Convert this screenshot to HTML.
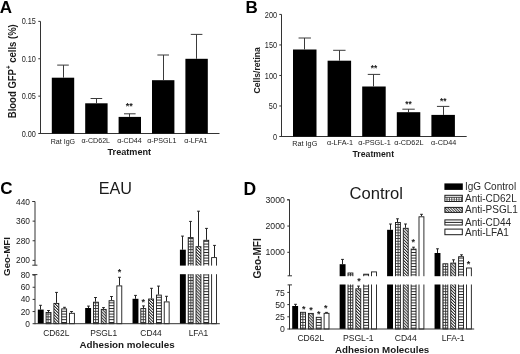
<!DOCTYPE html>
<html><head><meta charset="utf-8"><style>
html,body{margin:0;padding:0;background:#fff;}
body{width:520px;height:354px;overflow:hidden;}
svg{display:block;font-family:'Liberation Sans', Arial, sans-serif;}
</style></head><body>
<svg width="520" height="354" viewBox="0 0 520 354">
<rect width="520" height="354" fill="#fff"/>

<defs>
<pattern id="pg" patternUnits="userSpaceOnUse" x="0" y="0" width="2.8" height="2.8">
  <rect width="2.8" height="2.8" fill="#fff"/>
  <rect x="0" y="0" width="2.8" height="0.9" fill="#333"/>
  <rect x="0" y="0" width="0.9" height="2.8" fill="#333"/>
</pattern>
<pattern id="pd" patternUnits="userSpaceOnUse" width="2.1" height="2.1" patternTransform="rotate(-45)">
  <rect width="2.1" height="2.1" fill="#fff"/>
  <rect x="0" y="0" width="0.95" height="2.1" fill="#222"/>
</pattern>
<pattern id="pdl" patternUnits="userSpaceOnUse" width="1.9" height="1.9" patternTransform="rotate(-45)">
  <rect width="1.9" height="1.9" fill="#fff"/>
  <rect x="0" y="0" width="0.85" height="1.9" fill="#222"/>
</pattern>
<pattern id="ph" patternUnits="userSpaceOnUse" width="4" height="2.8">
  <rect width="4" height="2.8" fill="#fff"/>
  <rect x="0" y="0" width="4" height="0.95" fill="#222"/>
</pattern>
</defs>
<text x="-0.2" y="12.6" font-size="17" text-anchor="start" font-weight="bold" fill="#000" >A</text>
<line x1="40.5" y1="21.4" x2="40.5" y2="134.0" stroke="#333" stroke-width="1"/>
<line x1="40.5" y1="133.5" x2="219.5" y2="133.5" stroke="#333" stroke-width="1"/>
<line x1="38.3" y1="133.5" x2="40.5" y2="133.5" stroke="#333" stroke-width="1"/>
<text transform="translate(35.9,136.6) scale(0.85,1)" font-size="8.6" text-anchor="end" fill="#1a1a1a">0.00</text>
<line x1="38.3" y1="96.13" x2="40.5" y2="96.13" stroke="#333" stroke-width="1"/>
<text transform="translate(35.9,99.22999999999999) scale(0.85,1)" font-size="8.6" text-anchor="end" fill="#1a1a1a">0.05</text>
<line x1="38.3" y1="58.760000000000005" x2="40.5" y2="58.760000000000005" stroke="#333" stroke-width="1"/>
<text transform="translate(35.9,61.86000000000001) scale(0.85,1)" font-size="8.6" text-anchor="end" fill="#1a1a1a">0.10</text>
<line x1="38.3" y1="21.390000000000015" x2="40.5" y2="21.390000000000015" stroke="#333" stroke-width="1"/>
<text transform="translate(35.9,24.490000000000016) scale(0.85,1)" font-size="8.6" text-anchor="end" fill="#1a1a1a">0.15</text>
<rect x="51.80" y="77.70" width="22.40" height="55.80" fill="#000"/>
<line x1="63.5" y1="65.1" x2="63.5" y2="77.7" stroke="#3a3a3a" stroke-width="1"/>
<line x1="57.2" y1="65.1" x2="68.8" y2="65.1" stroke="#3a3a3a" stroke-width="1"/>
<text transform="translate(62.9,143.9) scale(0.9,1)" font-size="7.9" text-anchor="middle" fill="#1a1a1a">Rat IgG</text>
<rect x="85.20" y="103.30" width="22.40" height="30.20" fill="#000"/>
<line x1="96.5" y1="98.5" x2="96.5" y2="103.3" stroke="#3a3a3a" stroke-width="1"/>
<line x1="90.6" y1="98.5" x2="102.19999999999999" y2="98.5" stroke="#3a3a3a" stroke-width="1"/>
<text transform="translate(95.75,142.7) scale(0.9,1)" font-size="7.9" text-anchor="middle" fill="#1a1a1a">&#945;-CD62L</text>
<rect x="118.60" y="116.90" width="22.40" height="16.60" fill="#000"/>
<line x1="129.5" y1="113.8" x2="129.5" y2="116.9" stroke="#3a3a3a" stroke-width="1"/>
<line x1="123.99999999999999" y1="113.8" x2="135.6" y2="113.8" stroke="#3a3a3a" stroke-width="1"/>
<text transform="translate(129.45,142.7) scale(0.9,1)" font-size="7.9" text-anchor="middle" fill="#1a1a1a">&#945;-CD44</text>
<rect x="152.00" y="80.20" width="22.40" height="53.30" fill="#000"/>
<line x1="163.5" y1="55.0" x2="163.5" y2="80.2" stroke="#3a3a3a" stroke-width="1"/>
<line x1="157.39999999999998" y1="55.0" x2="169.0" y2="55.0" stroke="#3a3a3a" stroke-width="1"/>
<text transform="translate(161.8,142.7) scale(0.9,1)" font-size="7.9" text-anchor="middle" fill="#1a1a1a">&#945;-PSGL1</text>
<rect x="185.40" y="58.80" width="22.40" height="74.70" fill="#000"/>
<line x1="196.5" y1="34.4" x2="196.5" y2="58.8" stroke="#3a3a3a" stroke-width="1"/>
<line x1="190.79999999999995" y1="34.4" x2="202.39999999999998" y2="34.4" stroke="#3a3a3a" stroke-width="1"/>
<text transform="translate(195.85,142.7) scale(0.9,1)" font-size="7.9" text-anchor="middle" fill="#1a1a1a">&#945;-LFA1</text>
<text x="129.3" y="109.4" font-size="9" text-anchor="middle" font-weight="bold" fill="#1a1a1a" >**</text>
<text transform="translate(129.3,155.3) scale(0.97,1)" font-size="9.4" text-anchor="middle" font-weight="bold" fill="#1a1a1a">Treatment</text>
<text x="0" y="0" font-size="10" text-anchor="middle" font-weight="bold" fill="#1a1a1a" transform="translate(15.6,71.2) rotate(-90)" textLength="94" lengthAdjust="spacingAndGlyphs">Blood GFP<tspan dy="-4.2" font-size="6.5">+</tspan><tspan dy="4.2"> cells (%)</tspan></text>
<text x="245.5" y="12.8" font-size="17" text-anchor="start" font-weight="bold" fill="#000" >B</text>
<line x1="281.5" y1="14.4" x2="281.5" y2="137.0" stroke="#333" stroke-width="1"/>
<line x1="281.5" y1="136.5" x2="466.7" y2="136.5" stroke="#333" stroke-width="1"/>
<line x1="279.3" y1="136.5" x2="281.5" y2="136.5" stroke="#333" stroke-width="1"/>
<text transform="translate(277.0,139.6) scale(0.85,1)" font-size="8.6" text-anchor="end" fill="#1a1a1a">0</text>
<line x1="279.3" y1="105.98" x2="281.5" y2="105.98" stroke="#333" stroke-width="1"/>
<text transform="translate(277.0,109.08) scale(0.85,1)" font-size="8.6" text-anchor="end" fill="#1a1a1a">50</text>
<line x1="279.3" y1="75.46000000000001" x2="281.5" y2="75.46000000000001" stroke="#333" stroke-width="1"/>
<text transform="translate(277.0,78.56) scale(0.85,1)" font-size="8.6" text-anchor="end" fill="#1a1a1a">100</text>
<line x1="279.3" y1="44.94" x2="281.5" y2="44.94" stroke="#333" stroke-width="1"/>
<text transform="translate(277.0,48.04) scale(0.85,1)" font-size="8.6" text-anchor="end" fill="#1a1a1a">150</text>
<line x1="279.3" y1="14.420000000000002" x2="281.5" y2="14.420000000000002" stroke="#333" stroke-width="1"/>
<text transform="translate(277.0,17.520000000000003) scale(0.85,1)" font-size="8.6" text-anchor="end" fill="#1a1a1a">200</text>
<rect x="293.00" y="49.50" width="23.50" height="87.00" fill="#000"/>
<line x1="304.5" y1="38.0" x2="304.5" y2="49.5" stroke="#3a3a3a" stroke-width="1"/>
<line x1="298.55" y1="38.0" x2="310.95" y2="38.0" stroke="#3a3a3a" stroke-width="1"/>
<text transform="translate(304.8,146.2) scale(0.92,1)" font-size="7.9" text-anchor="middle" fill="#1a1a1a">Rat IgG</text>
<rect x="327.60" y="60.70" width="23.50" height="75.80" fill="#000"/>
<line x1="339.5" y1="50.3" x2="339.5" y2="60.7" stroke="#3a3a3a" stroke-width="1"/>
<line x1="333.15000000000003" y1="50.3" x2="345.55" y2="50.3" stroke="#3a3a3a" stroke-width="1"/>
<text transform="translate(339.95,145.0) scale(0.92,1)" font-size="7.9" text-anchor="middle" fill="#1a1a1a">&#945;-LFA-1</text>
<rect x="362.20" y="86.50" width="23.50" height="50.00" fill="#000"/>
<line x1="373.5" y1="74.4" x2="373.5" y2="86.5" stroke="#3a3a3a" stroke-width="1"/>
<line x1="367.75" y1="74.4" x2="380.15" y2="74.4" stroke="#3a3a3a" stroke-width="1"/>
<text transform="translate(374.55,145.0) scale(0.92,1)" font-size="7.9" text-anchor="middle" fill="#1a1a1a">&#945;-PSGL-1</text>
<rect x="396.80" y="112.20" width="23.50" height="24.30" fill="#000"/>
<line x1="408.5" y1="109.2" x2="408.5" y2="112.2" stroke="#3a3a3a" stroke-width="1"/>
<line x1="402.35" y1="109.2" x2="414.75" y2="109.2" stroke="#3a3a3a" stroke-width="1"/>
<text transform="translate(408.85,145.0) scale(0.92,1)" font-size="7.9" text-anchor="middle" fill="#1a1a1a">&#945;-CD62L</text>
<rect x="431.40" y="114.90" width="23.50" height="21.60" fill="#000"/>
<line x1="443.5" y1="106.4" x2="443.5" y2="114.9" stroke="#3a3a3a" stroke-width="1"/>
<line x1="436.95" y1="106.4" x2="449.34999999999997" y2="106.4" stroke="#3a3a3a" stroke-width="1"/>
<text transform="translate(443.7,145.0) scale(0.92,1)" font-size="7.9" text-anchor="middle" fill="#1a1a1a">&#945;-CD44</text>
<text x="373.95" y="70.6" font-size="8.3" text-anchor="middle" font-weight="bold" fill="#1a1a1a" >**</text>
<text x="408.55" y="107.2" font-size="8.3" text-anchor="middle" font-weight="bold" fill="#1a1a1a" >**</text>
<text x="443.15" y="103.6" font-size="8.3" text-anchor="middle" font-weight="bold" fill="#1a1a1a" >**</text>
<text x="373.3" y="157.3" font-size="8.7" text-anchor="middle" font-weight="bold" fill="#1a1a1a" >Treatment</text>
<text x="0" y="0" font-size="8.6" text-anchor="middle" font-weight="bold" fill="#1a1a1a" transform="translate(260.3,70.3) rotate(-90)">Cells/retina</text>
<text x="0.3" y="194.4" font-size="17" text-anchor="start" font-weight="bold" fill="#000" >C</text>
<text x="115.4" y="193.8" font-size="16.2" text-anchor="middle" fill="#1a1a1a" >EAU</text>
<line x1="40.5" y1="305.3" x2="40.5" y2="309.6" stroke="#222" stroke-width="1"/>
<line x1="39.1" y1="305.3" x2="41.9" y2="305.3" stroke="#222" stroke-width="1"/>
<rect x="37.80" y="309.60" width="5.90" height="14.10" fill="#000"/>
<line x1="48.5" y1="310.5" x2="48.5" y2="312.0" stroke="#222" stroke-width="1"/>
<line x1="47.1" y1="310.5" x2="49.9" y2="310.5" stroke="#222" stroke-width="1"/>
<rect x="46.10" y="312.50" width="4.90" height="11.20" fill="url(#pg)" stroke="#1a1a1a" stroke-width="0.9"/>
<line x1="56.5" y1="292.4" x2="56.5" y2="302.9" stroke="#222" stroke-width="1"/>
<line x1="55.1" y1="292.4" x2="57.9" y2="292.4" stroke="#222" stroke-width="1"/>
<rect x="53.90" y="303.40" width="4.90" height="20.30" fill="url(#pd)" stroke="#1a1a1a" stroke-width="0.9"/>
<line x1="64.5" y1="307.3" x2="64.5" y2="308.4" stroke="#222" stroke-width="1"/>
<line x1="63.1" y1="307.3" x2="65.9" y2="307.3" stroke="#222" stroke-width="1"/>
<rect x="61.70" y="308.90" width="4.90" height="14.80" fill="url(#ph)" stroke="#1a1a1a" stroke-width="0.9"/>
<line x1="71.5" y1="311.5" x2="71.5" y2="312.8" stroke="#222" stroke-width="1"/>
<line x1="70.1" y1="311.5" x2="72.9" y2="311.5" stroke="#222" stroke-width="1"/>
<rect x="69.50" y="313.30" width="4.90" height="10.40" fill="#fff" stroke="#1a1a1a" stroke-width="0.9"/>
<text x="56.3" y="336.0" font-size="8.4" text-anchor="middle" fill="#1a1a1a" >CD62L</text>
<line x1="88.5" y1="306.1" x2="88.5" y2="308.0" stroke="#222" stroke-width="1"/>
<line x1="87.1" y1="306.1" x2="89.9" y2="306.1" stroke="#222" stroke-width="1"/>
<rect x="85.17" y="308.00" width="5.90" height="15.70" fill="#000"/>
<line x1="95.5" y1="297.5" x2="95.5" y2="301.7" stroke="#222" stroke-width="1"/>
<line x1="94.1" y1="297.5" x2="96.9" y2="297.5" stroke="#222" stroke-width="1"/>
<rect x="93.47" y="302.20" width="4.90" height="21.50" fill="url(#pg)" stroke="#1a1a1a" stroke-width="0.9"/>
<line x1="103.5" y1="307.6" x2="103.5" y2="308.9" stroke="#222" stroke-width="1"/>
<line x1="102.1" y1="307.6" x2="104.9" y2="307.6" stroke="#222" stroke-width="1"/>
<rect x="101.27" y="309.40" width="4.90" height="14.30" fill="url(#pd)" stroke="#1a1a1a" stroke-width="0.9"/>
<line x1="111.5" y1="296.5" x2="111.5" y2="300.2" stroke="#222" stroke-width="1"/>
<line x1="110.1" y1="296.5" x2="112.9" y2="296.5" stroke="#222" stroke-width="1"/>
<rect x="109.07" y="300.70" width="4.90" height="23.00" fill="url(#ph)" stroke="#1a1a1a" stroke-width="0.9"/>
<line x1="119.5" y1="277.3" x2="119.5" y2="285.4" stroke="#222" stroke-width="1"/>
<line x1="118.1" y1="277.3" x2="120.9" y2="277.3" stroke="#222" stroke-width="1"/>
<rect x="116.87" y="285.90" width="4.90" height="37.80" fill="#fff" stroke="#1a1a1a" stroke-width="0.9"/>
<text x="103.66999999999999" y="336.0" font-size="8.4" text-anchor="middle" fill="#1a1a1a" >PSGL1</text>
<line x1="135.5" y1="295.4" x2="135.5" y2="298.8" stroke="#222" stroke-width="1"/>
<line x1="134.1" y1="295.4" x2="136.9" y2="295.4" stroke="#222" stroke-width="1"/>
<rect x="132.54" y="298.80" width="5.90" height="24.90" fill="#000"/>
<line x1="143.5" y1="305.9" x2="143.5" y2="308.1" stroke="#222" stroke-width="1"/>
<line x1="142.1" y1="305.9" x2="144.9" y2="305.9" stroke="#222" stroke-width="1"/>
<rect x="140.84" y="308.60" width="4.90" height="15.10" fill="url(#pg)" stroke="#1a1a1a" stroke-width="0.9"/>
<line x1="151.5" y1="288.3" x2="151.5" y2="298.5" stroke="#222" stroke-width="1"/>
<line x1="150.1" y1="288.3" x2="152.9" y2="288.3" stroke="#222" stroke-width="1"/>
<rect x="148.64" y="299.00" width="4.90" height="24.70" fill="url(#pd)" stroke="#1a1a1a" stroke-width="0.9"/>
<line x1="158.5" y1="286.1" x2="158.5" y2="294.6" stroke="#222" stroke-width="1"/>
<line x1="157.1" y1="286.1" x2="159.9" y2="286.1" stroke="#222" stroke-width="1"/>
<rect x="156.44" y="295.10" width="4.90" height="28.60" fill="url(#ph)" stroke="#1a1a1a" stroke-width="0.9"/>
<line x1="166.5" y1="296.3" x2="166.5" y2="301.4" stroke="#222" stroke-width="1"/>
<line x1="165.1" y1="296.3" x2="167.9" y2="296.3" stroke="#222" stroke-width="1"/>
<rect x="164.24" y="301.90" width="4.90" height="21.80" fill="#fff" stroke="#1a1a1a" stroke-width="0.9"/>
<text x="151.04" y="336.0" font-size="8.4" text-anchor="middle" fill="#1a1a1a" >CD44</text>
<line x1="182.5" y1="236.1" x2="182.5" y2="249.7" stroke="#222" stroke-width="1"/>
<line x1="181.1" y1="236.1" x2="183.9" y2="236.1" stroke="#222" stroke-width="1"/>
<rect x="179.91" y="249.70" width="5.90" height="74.00" fill="#000"/>
<line x1="190.5" y1="221.4" x2="190.5" y2="237.1" stroke="#222" stroke-width="1"/>
<line x1="189.1" y1="221.4" x2="191.9" y2="221.4" stroke="#222" stroke-width="1"/>
<rect x="188.21" y="237.60" width="4.90" height="86.10" fill="url(#pg)" stroke="#1a1a1a" stroke-width="0.9"/>
<line x1="198.5" y1="211.2" x2="198.5" y2="246.2" stroke="#222" stroke-width="1"/>
<line x1="197.1" y1="211.2" x2="199.9" y2="211.2" stroke="#222" stroke-width="1"/>
<rect x="196.01" y="246.70" width="4.90" height="77.00" fill="url(#pd)" stroke="#1a1a1a" stroke-width="0.9"/>
<line x1="206.5" y1="228.4" x2="206.5" y2="239.8" stroke="#222" stroke-width="1"/>
<line x1="205.1" y1="228.4" x2="207.9" y2="228.4" stroke="#222" stroke-width="1"/>
<rect x="203.81" y="240.30" width="4.90" height="83.40" fill="url(#ph)" stroke="#1a1a1a" stroke-width="0.9"/>
<line x1="214.5" y1="245.4" x2="214.5" y2="257.1" stroke="#222" stroke-width="1"/>
<line x1="213.1" y1="245.4" x2="215.9" y2="245.4" stroke="#222" stroke-width="1"/>
<rect x="211.61" y="257.60" width="4.90" height="66.10" fill="#fff" stroke="#1a1a1a" stroke-width="0.9"/>
<text x="198.40999999999997" y="336.0" font-size="8.4" text-anchor="middle" fill="#1a1a1a" >LFA1</text>
<rect x="36.00" y="265.60" width="184.80" height="8.60" fill="#fff"/>
<line x1="35.0" y1="201.5" x2="35.0" y2="265.2" stroke="#333" stroke-width="1"/>
<line x1="32.3" y1="201.5" x2="35.0" y2="201.5" stroke="#333" stroke-width="1"/>
<line x1="32.3" y1="265.2" x2="37.4" y2="265.2" stroke="#333" stroke-width="1"/>
<line x1="32.6" y1="201.5" x2="35.0" y2="201.5" stroke="#333" stroke-width="1"/>
<text x="30.0" y="204.5" font-size="8.4" text-anchor="end" fill="#1a1a1a" >440</text>
<line x1="32.6" y1="221.13" x2="35.0" y2="221.13" stroke="#333" stroke-width="1"/>
<text x="30.0" y="224.13" font-size="8.4" text-anchor="end" fill="#1a1a1a" >360</text>
<line x1="32.6" y1="240.76" x2="35.0" y2="240.76" stroke="#333" stroke-width="1"/>
<text x="30.0" y="243.76" font-size="8.4" text-anchor="end" fill="#1a1a1a" >280</text>
<line x1="32.6" y1="260.39" x2="35.0" y2="260.39" stroke="#333" stroke-width="1"/>
<text x="30.0" y="263.39" font-size="8.4" text-anchor="end" fill="#1a1a1a" >200</text>
<line x1="35.0" y1="274.6" x2="35.0" y2="324.2" stroke="#333" stroke-width="1"/>
<line x1="32.3" y1="274.6" x2="37.4" y2="274.6" stroke="#333" stroke-width="1"/>
<line x1="32.6" y1="323.7" x2="35.0" y2="323.7" stroke="#333" stroke-width="1"/>
<text x="30.0" y="326.7" font-size="8.4" text-anchor="end" fill="#1a1a1a" >0</text>
<line x1="32.6" y1="311.55" x2="35.0" y2="311.55" stroke="#333" stroke-width="1"/>
<text x="30.0" y="314.55" font-size="8.4" text-anchor="end" fill="#1a1a1a" >20</text>
<line x1="32.6" y1="299.4" x2="35.0" y2="299.4" stroke="#333" stroke-width="1"/>
<text x="30.0" y="302.4" font-size="8.4" text-anchor="end" fill="#1a1a1a" >40</text>
<line x1="32.6" y1="287.25" x2="35.0" y2="287.25" stroke="#333" stroke-width="1"/>
<text x="30.0" y="290.25" font-size="8.4" text-anchor="end" fill="#1a1a1a" >60</text>
<line x1="32.6" y1="275.09999999999997" x2="35.0" y2="275.09999999999997" stroke="#333" stroke-width="1"/>
<text x="30.0" y="278.09999999999997" font-size="8.4" text-anchor="end" fill="#1a1a1a" >80</text>
<line x1="35.0" y1="323.7" x2="219.8" y2="323.7" stroke="#333" stroke-width="1"/>
<text x="119.4" y="274.8" font-size="9" text-anchor="middle" font-weight="bold" fill="#1a1a1a" >*</text>
<text x="143.3" y="304.8" font-size="9" text-anchor="middle" font-weight="bold" fill="#1a1a1a" >*</text>
<text x="127.1" y="347.7" font-size="9.8" text-anchor="middle" font-weight="bold" fill="#1a1a1a" >Adhesion molecules</text>
<text x="0" y="0" font-size="9.7" text-anchor="middle" font-weight="bold" fill="#1a1a1a" transform="translate(10.1,256.5) rotate(-90)">Geo-MFI</text>
<text x="243.6" y="194.7" font-size="17.5" text-anchor="start" font-weight="bold" fill="#000" >D</text>
<text x="376.3" y="199.3" font-size="16.6" text-anchor="middle" fill="#1a1a1a" >Control</text>
<line x1="295.5" y1="304.3" x2="295.5" y2="306.0" stroke="#222" stroke-width="1"/>
<line x1="294.1" y1="304.3" x2="296.9" y2="304.3" stroke="#222" stroke-width="1"/>
<rect x="292.20" y="306.00" width="5.90" height="23.00" fill="#000"/>
<rect x="300.55" y="312.30" width="4.90" height="16.70" fill="url(#pg)" stroke="#1a1a1a" stroke-width="0.9"/>
<rect x="308.40" y="313.40" width="4.90" height="15.60" fill="url(#pd)" stroke="#1a1a1a" stroke-width="0.9"/>
<rect x="316.25" y="317.30" width="4.90" height="11.70" fill="url(#ph)" stroke="#1a1a1a" stroke-width="0.9"/>
<line x1="326.5" y1="312.4" x2="326.5" y2="312.8" stroke="#222" stroke-width="1"/>
<line x1="325.1" y1="312.4" x2="327.9" y2="312.4" stroke="#222" stroke-width="1"/>
<rect x="324.10" y="313.30" width="4.90" height="15.70" fill="#fff" stroke="#1a1a1a" stroke-width="0.9"/>
<text x="310.8" y="341.3" font-size="8.6" text-anchor="middle" fill="#1a1a1a" >CD62L</text>
<line x1="342.5" y1="259.4" x2="342.5" y2="264.2" stroke="#222" stroke-width="1"/>
<line x1="341.1" y1="259.4" x2="343.9" y2="259.4" stroke="#222" stroke-width="1"/>
<rect x="339.65" y="264.20" width="5.90" height="64.80" fill="#000"/>
<rect x="348.00" y="273.00" width="4.90" height="56.00" fill="url(#pg)" stroke="#1a1a1a" stroke-width="0.9"/>
<line x1="358.5" y1="286.1" x2="358.5" y2="288.3" stroke="#222" stroke-width="1"/>
<line x1="357.1" y1="286.1" x2="359.9" y2="286.1" stroke="#222" stroke-width="1"/>
<rect x="355.85" y="288.80" width="4.90" height="40.20" fill="url(#pd)" stroke="#1a1a1a" stroke-width="0.9"/>
<rect x="363.70" y="274.20" width="4.90" height="54.80" fill="url(#ph)" stroke="#1a1a1a" stroke-width="0.9"/>
<rect x="371.55" y="271.90" width="4.90" height="57.10" fill="#fff" stroke="#1a1a1a" stroke-width="0.9"/>
<text x="358.25" y="341.3" font-size="8.6" text-anchor="middle" fill="#1a1a1a" >PSGL-1</text>
<line x1="390.5" y1="224.0" x2="390.5" y2="229.8" stroke="#222" stroke-width="1"/>
<line x1="389.1" y1="224.0" x2="391.9" y2="224.0" stroke="#222" stroke-width="1"/>
<rect x="387.10" y="229.80" width="5.90" height="99.20" fill="#000"/>
<line x1="397.5" y1="218.8" x2="397.5" y2="222.0" stroke="#222" stroke-width="1"/>
<line x1="396.1" y1="218.8" x2="398.9" y2="218.8" stroke="#222" stroke-width="1"/>
<rect x="395.45" y="222.50" width="4.90" height="106.50" fill="url(#pg)" stroke="#1a1a1a" stroke-width="0.9"/>
<line x1="405.5" y1="224.0" x2="405.5" y2="227.8" stroke="#222" stroke-width="1"/>
<line x1="404.1" y1="224.0" x2="406.9" y2="224.0" stroke="#222" stroke-width="1"/>
<rect x="403.30" y="228.30" width="4.90" height="100.70" fill="url(#pd)" stroke="#1a1a1a" stroke-width="0.9"/>
<line x1="413.5" y1="247.2" x2="413.5" y2="248.6" stroke="#222" stroke-width="1"/>
<line x1="412.1" y1="247.2" x2="414.9" y2="247.2" stroke="#222" stroke-width="1"/>
<rect x="411.15" y="249.10" width="4.90" height="79.90" fill="url(#ph)" stroke="#1a1a1a" stroke-width="0.9"/>
<line x1="421.5" y1="214.3" x2="421.5" y2="216.3" stroke="#222" stroke-width="1"/>
<line x1="420.1" y1="214.3" x2="422.9" y2="214.3" stroke="#222" stroke-width="1"/>
<rect x="419.00" y="216.80" width="4.90" height="112.20" fill="#fff" stroke="#1a1a1a" stroke-width="0.9"/>
<text x="405.70000000000005" y="341.3" font-size="8.6" text-anchor="middle" fill="#1a1a1a" >CD44</text>
<line x1="437.5" y1="248.8" x2="437.5" y2="253.0" stroke="#222" stroke-width="1"/>
<line x1="436.1" y1="248.8" x2="438.9" y2="248.8" stroke="#222" stroke-width="1"/>
<rect x="434.55" y="253.00" width="5.90" height="76.00" fill="#000"/>
<rect x="442.90" y="263.80" width="4.90" height="65.20" fill="url(#pg)" stroke="#1a1a1a" stroke-width="0.9"/>
<line x1="453.5" y1="259.8" x2="453.5" y2="262.6" stroke="#222" stroke-width="1"/>
<line x1="452.1" y1="259.8" x2="454.9" y2="259.8" stroke="#222" stroke-width="1"/>
<rect x="450.75" y="263.10" width="4.90" height="65.90" fill="url(#pd)" stroke="#1a1a1a" stroke-width="0.9"/>
<line x1="461.5" y1="254.8" x2="461.5" y2="256.2" stroke="#222" stroke-width="1"/>
<line x1="460.1" y1="254.8" x2="462.9" y2="254.8" stroke="#222" stroke-width="1"/>
<rect x="458.60" y="256.70" width="4.90" height="72.30" fill="url(#ph)" stroke="#1a1a1a" stroke-width="0.9"/>
<rect x="466.45" y="268.00" width="4.90" height="61.00" fill="#fff" stroke="#1a1a1a" stroke-width="0.9"/>
<text x="453.15000000000003" y="341.3" font-size="8.6" text-anchor="middle" fill="#1a1a1a" >LFA-1</text>
<rect x="290.50" y="276.20" width="184.70" height="8.30" fill="#fff"/>
<line x1="289.5" y1="199.8" x2="289.5" y2="275.8" stroke="#333" stroke-width="1"/>
<line x1="287.0" y1="199.8" x2="289.5" y2="199.8" stroke="#333" stroke-width="1"/>
<line x1="287.6" y1="275.8" x2="292.0" y2="275.8" stroke="#333" stroke-width="1"/>
<line x1="287.3" y1="199.8" x2="289.5" y2="199.8" stroke="#333" stroke-width="1"/>
<text x="284.8" y="202.9" font-size="8.7" text-anchor="end" fill="#1a1a1a" >3000</text>
<line x1="287.3" y1="226.05" x2="289.5" y2="226.05" stroke="#333" stroke-width="1"/>
<text x="284.8" y="229.15" font-size="8.7" text-anchor="end" fill="#1a1a1a" >2000</text>
<line x1="287.3" y1="252.3" x2="289.5" y2="252.3" stroke="#333" stroke-width="1"/>
<text x="284.8" y="255.4" font-size="8.7" text-anchor="end" fill="#1a1a1a" >1000</text>
<line x1="289.5" y1="284.9" x2="289.5" y2="329.5" stroke="#333" stroke-width="1"/>
<line x1="287.6" y1="284.9" x2="292.0" y2="284.9" stroke="#333" stroke-width="1"/>
<line x1="287.3" y1="329.0" x2="289.5" y2="329.0" stroke="#333" stroke-width="1"/>
<text x="284.8" y="332.1" font-size="8.7" text-anchor="end" fill="#1a1a1a" >0</text>
<line x1="287.3" y1="316.8" x2="289.5" y2="316.8" stroke="#333" stroke-width="1"/>
<text x="284.8" y="319.90000000000003" font-size="8.7" text-anchor="end" fill="#1a1a1a" >25</text>
<line x1="287.3" y1="304.6" x2="289.5" y2="304.6" stroke="#333" stroke-width="1"/>
<text x="284.8" y="307.70000000000005" font-size="8.7" text-anchor="end" fill="#1a1a1a" >50</text>
<line x1="287.3" y1="292.4" x2="289.5" y2="292.4" stroke="#333" stroke-width="1"/>
<text x="284.8" y="295.5" font-size="8.7" text-anchor="end" fill="#1a1a1a" >75</text>
<line x1="289.5" y1="329.0" x2="474.2" y2="329.0" stroke="#333" stroke-width="1"/>
<text x="303.7" y="311.70000000000005" font-size="9" text-anchor="middle" font-weight="bold" fill="#1a1a1a" >*</text>
<text x="311.0" y="313.0" font-size="9" text-anchor="middle" font-weight="bold" fill="#1a1a1a" >*</text>
<text x="318.8" y="317.0" font-size="9" text-anchor="middle" font-weight="bold" fill="#1a1a1a" >*</text>
<text x="325.8" y="310.8" font-size="9" text-anchor="middle" font-weight="bold" fill="#1a1a1a" >*</text>
<text x="359.0" y="284.20000000000005" font-size="9" text-anchor="middle" font-weight="bold" fill="#1a1a1a" >*</text>
<text x="413.3" y="244.6" font-size="9" text-anchor="middle" font-weight="bold" fill="#1a1a1a" >*</text>
<text x="468.4" y="266.6" font-size="9" text-anchor="middle" font-weight="bold" fill="#1a1a1a" >*</text>
<text x="382.1" y="352.7" font-size="9.75" text-anchor="middle" font-weight="bold" fill="#1a1a1a" >Adhesion Molecules</text>
<text x="0" y="0" font-size="10.1" text-anchor="middle" font-weight="bold" fill="#1a1a1a" transform="translate(260.6,258.4) rotate(-90)">Geo-MFI</text>
<rect x="444.40" y="183.40" width="18.40" height="6.50" fill="#000"/>
<text x="465.0" y="190.3" font-size="10" text-anchor="start" fill="#2a2a2a" >IgG Control</text>
<rect x="444.90" y="195.30" width="17.40" height="6.20" fill="#fff" stroke="#1a1a1a" stroke-width="1"/>
<line x1="444.9" y1="197.3" x2="462.3" y2="197.3" stroke="#333" stroke-width="0.9"/>
<line x1="444.9" y1="199.6" x2="462.3" y2="199.6" stroke="#777" stroke-width="0.6"/>
<line x1="447.0" y1="197.3" x2="447.0" y2="201.5" stroke="#333" stroke-width="0.9"/>
<line x1="449.4" y1="197.3" x2="449.4" y2="201.5" stroke="#333" stroke-width="0.9"/>
<line x1="451.79999999999995" y1="197.3" x2="451.79999999999995" y2="201.5" stroke="#333" stroke-width="0.9"/>
<line x1="454.19999999999993" y1="197.3" x2="454.19999999999993" y2="201.5" stroke="#333" stroke-width="0.9"/>
<line x1="456.5999999999999" y1="197.3" x2="456.5999999999999" y2="201.5" stroke="#333" stroke-width="0.9"/>
<line x1="458.9999999999999" y1="197.3" x2="458.9999999999999" y2="201.5" stroke="#333" stroke-width="0.9"/>
<line x1="461.39999999999986" y1="197.3" x2="461.39999999999986" y2="201.5" stroke="#333" stroke-width="0.9"/>
<text x="465.0" y="202.4" font-size="10" text-anchor="start" fill="#2a2a2a" >Anti-CD62L</text>
<rect x="444.90" y="207.40" width="17.40" height="5.00" fill="url(#pdl)" stroke="#1a1a1a" stroke-width="1"/>
<text x="465.0" y="213.3" font-size="10" text-anchor="start" fill="#2a2a2a" >Anti-PSGL1</text>
<rect x="444.90" y="219.90" width="17.40" height="5.10" fill="#fff" stroke="#1a1a1a" stroke-width="1"/>
<line x1="444.9" y1="222.4" x2="462.3" y2="222.4" stroke="#222" stroke-width="1"/>
<text x="465.0" y="225.9" font-size="10" text-anchor="start" fill="#2a2a2a" >Anti-CD44</text>
<rect x="444.90" y="229.10" width="17.40" height="5.60" fill="#fff" stroke="#1a1a1a" stroke-width="1"/>
<text x="465.0" y="235.6" font-size="10" text-anchor="start" fill="#2a2a2a" >Anti-LFA1</text>
</svg>
</body></html>
